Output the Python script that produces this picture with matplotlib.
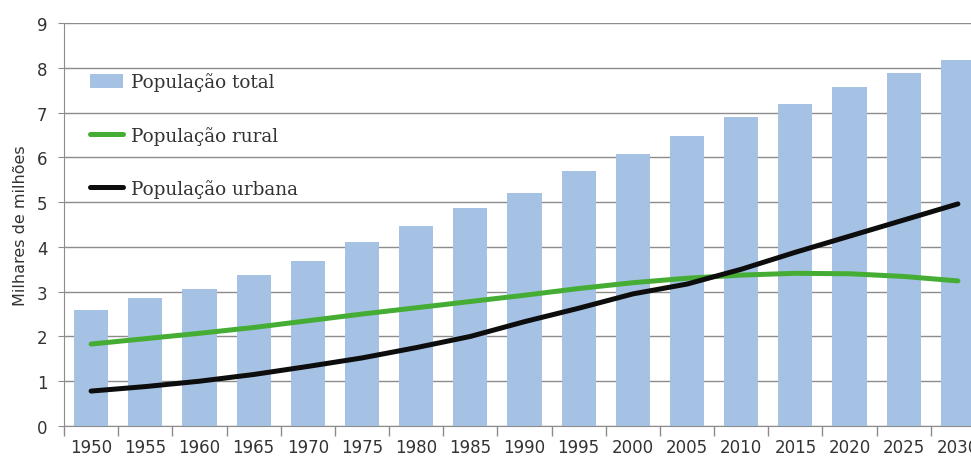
import matplotlib.pyplot as plt
import numpy as np

# population in thousands of millions, 1950-2030
years = ["1950", "1955", "1960", "1965", "1970", "1975", "1980", "1985", "1990",
         "1995", "2000", "2005", "2010", "2015", "2020", "2025", "2030"]
total = [2.6, 2.86, 3.07, 3.38, 3.68, 4.1, 4.46, 4.87, 5.2,
         5.7, 6.07, 6.48, 6.89, 7.2, 7.57, 7.88, 8.18]
rural = [1.83, 1.95, 2.07, 2.2, 2.35, 2.5, 2.64, 2.78, 2.92,
         3.07, 3.2, 3.3, 3.37, 3.41, 3.4, 3.34, 3.24]
urbana = [0.78, 0.88, 1.0, 1.15, 1.33, 1.52, 1.75, 2.0, 2.33,
          2.63, 2.95, 3.17, 3.5, 3.88, 4.24, 4.6, 4.96]

W, H = 971, 464
fig = plt.figure(figsize=(W / 100, H / 100), dpi=100)
ax = fig.add_axes([64 / W, (H - 427) / H, 921 / W, 403 / H])

x = np.arange(len(years))
grid_col = "#8c8c8c"

bars = ax.bar(x, total, width=0.63, color="#a5c2e5", zorder=2)
l_rural, = ax.plot(x, rural, color="#45ad34", lw=3.6, zorder=3,
                   solid_capstyle="round")
l_urb, = ax.plot(x, urbana, color="#0d0d0d", lw=3.6, zorder=4,
                 solid_capstyle="round")

ax.set_xlim(-0.5, len(years) - 0.5)
ax.set_ylim(0, 9)
ax.set_yticks(range(10))
ax.yaxis.grid(True, color=grid_col, lw=1.0, zorder=1)
ax.set_axisbelow(True)

ax.set_xticks(x)
ax.set_xticklabels(years)
ax.set_xticks(np.arange(-0.5, len(years), 1.0), minor=True)
ax.tick_params(axis="x", which="major", length=0, pad=9, labelsize=12,
               labelcolor="#333333")
ax.tick_params(axis="x", which="minor", length=7, color=grid_col, width=1)
ax.tick_params(axis="y", length=4, color=grid_col, labelsize=12,
               labelcolor="#333333", pad=8)

for s in ("top", "right"):
    ax.spines[s].set_visible(False)
for s in ("left", "bottom"):
    ax.spines[s].set_color(grid_col)

ax.set_ylabel("Milhares de milhões", fontsize=11.5, color="#333333", labelpad=6)

leg = ax.legend([bars, l_rural, l_urb],
                ["População total", "População rural", "População urbana"],
                loc="upper left", bbox_to_anchor=(26 / 921, 0.878), frameon=False,
                prop={"family": "DejaVu Serif", "size": 13.2},
                handlelength=1.8, handleheight=0.8, handletextpad=0.44,
                labelspacing=1.88, borderaxespad=0.0, borderpad=0.0)
for t in leg.get_texts():
    t.set_color("#333333")

fig.savefig("out.png", dpi=100)
